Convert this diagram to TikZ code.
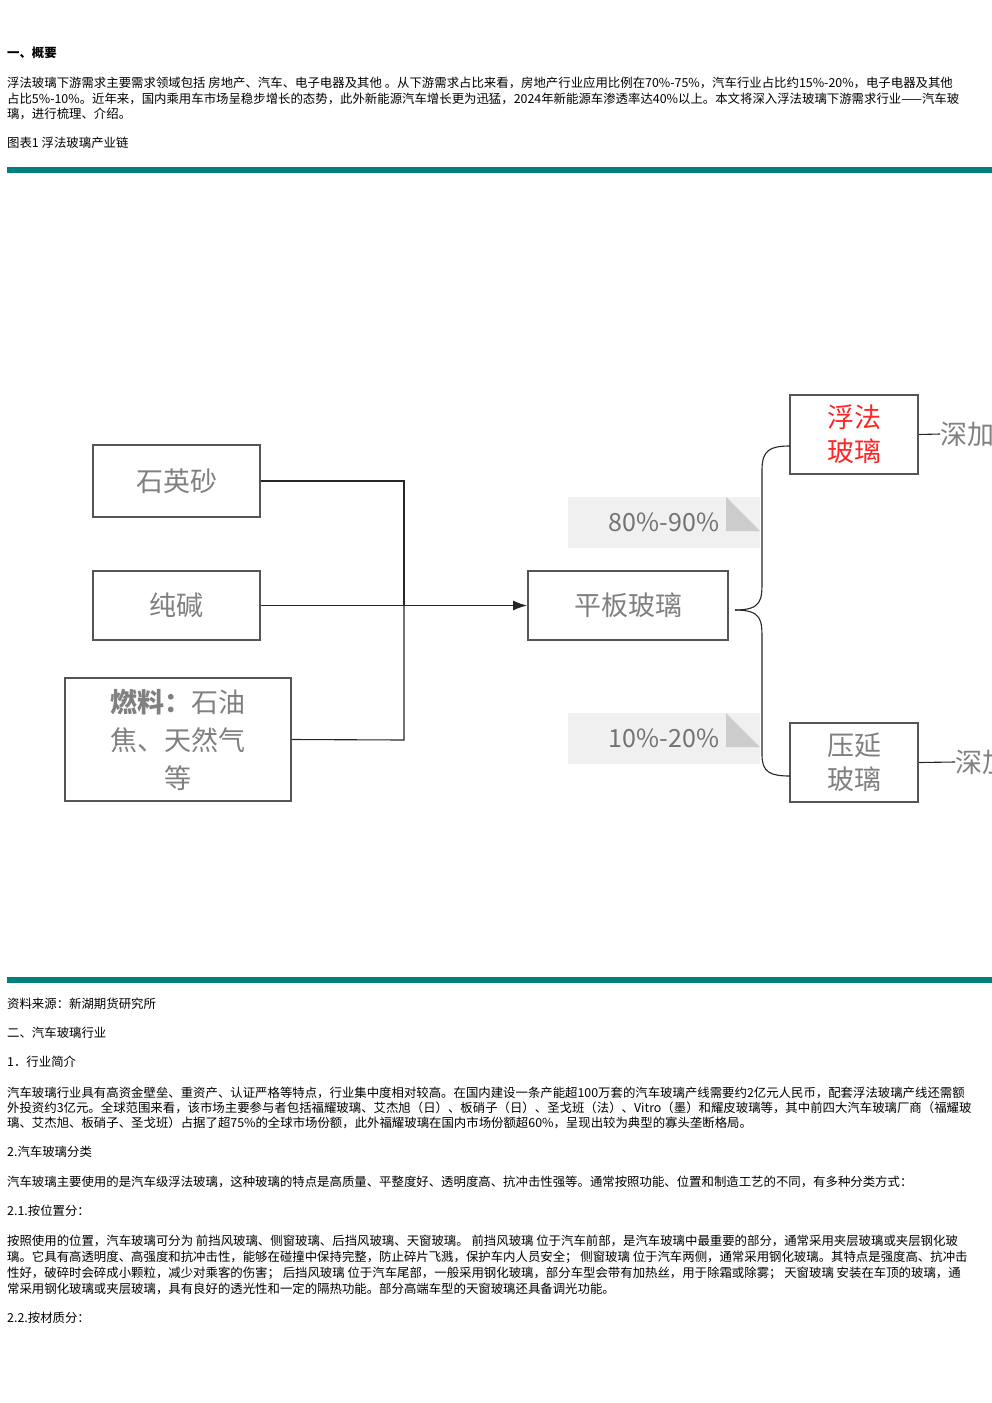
\documentclass[tikz,border=0pt]{standalone}
\usepackage{fontspec}
\setmainfont{Noto Sans CJK SC}
\usetikzlibrary{arrows.meta,decorations.pathreplacing}
\definecolor{teal1}{HTML}{00807A}
\definecolor{boxgray}{HTML}{555555}
\tikzset{
 txt/.style={anchor=west,inner sep=0pt,font=\fontsize{12.4}{14}\selectfont},
 bx/.style={draw=boxgray,line width=2pt,fill=white,align=center,text=gray,font=\fontsize{27}{36}\selectfont},
 conn/.style={draw=black!85,line width=1.1pt},
 pct/.style={fill=black!6,text=gray!90!black,font=\fontsize{25}{30}\selectfont,minimum width=192pt,minimum height=51pt,inner sep=0pt},
}
\begin{document}
\begin{tikzpicture}[x=1pt,y=-1pt]
\useasboundingbox (0,0) rectangle (992,1403);
\node[txt,font=\fontsize{12.4}{14}\selectfont\bfseries] (h1) at (7,53) {一、概要};
\node[txt] (p1a) at (7,83) {浮法玻璃下游需求主要需求领域包括 房地产、汽车、电子电器及其他 。从下游需求占比来看，房地产行业应用比例在70\%-75\%，汽车行业占比约15\%-20\%，电子电器及其他};
\node[txt] (p1b) at (7,99) {占比5\%-10\%。近年来，国内乘用车市场呈稳步增长的态势，此外新能源汽车增长更为迅猛，2024年新能源车渗透率达40\%以上。本文将深入浮法玻璃下游需求行业——汽车玻};
\node[txt] (p1c) at (7,114) {璃，进行梳理、介绍。};
\node[txt] (cap) at (7,143) {图表1 浮法玻璃产业链};
\fill[teal1] (7,167) rectangle (992,173);
\fill[teal1] (7,977) rectangle (992,983);
% diagram
\node[bx,minimum width=167pt,minimum height=72pt] (q) at (176.5,481) {石英砂};
\node[bx,minimum width=167pt,minimum height=69pt] (c) at (176.5,605.5) {纯碱};
\node[bx,minimum width=226pt,minimum height=123pt,font=\fontsize{27}{38}\selectfont] (f) at (178,739.5) {\textbf{燃料：}石油\\焦、天然气\\等};
\node[bx,minimum width=200pt,minimum height=69pt] (pb) at (628,605.5) {平板玻璃};
\node[bx,minimum width=128pt,minimum height=79pt,text=red!85,font=\fontsize{27}{34}\selectfont] (ff) at (854,434.5) {浮法\\玻璃};
\node[bx,minimum width=128pt,minimum height=79pt,font=\fontsize{27}{34}\selectfont] (yy) at (854,762.5) {压延\\玻璃};
\coordinate (j) at (404,606);
\draw[conn] (q.east) -- (404,481) -- (j);
\draw[conn] (f.east) -- (404,740) -- (j);
\draw[conn,-{Latex[length=14pt,width=10pt]}] (c.east) -- (pb.west);
\draw[conn] (735,610) .. controls (762,610) and (762,600) .. (762,580) -- (762,470) .. controls (762,450) and (770,446) .. (790,446);
\draw[conn] (735,610) .. controls (762,610) and (762,620) .. (762,640) -- (762,755) .. controls (762,772) and (770,776) .. (790,776);
\node[pct] (p80) at (664,522.5) {80\%-90\%};
\node[pct] (p10) at (664,738.5) {10\%-20\%};
\fill[black!20] (726,497) -- (760,531) -- (726,531) -- cycle;
\fill[black!20] (726,713) -- (760,747) -- (726,747) -- cycle;
\coordinate (e1) at (940,434);
\coordinate (e2) at (955,762);
\draw[conn] (ff.east) -- (e1);
\draw[conn] (yy.east) -- (e2);
\begin{scope}
\clip (0,0) rectangle (992,1403);
\node[anchor=west,inner sep=0pt,text=gray,font=\fontsize{27}{30}\selectfont] (d1) at (e1) {深加工};
\node[anchor=west,inner sep=0pt,text=gray,font=\fontsize{27}{30}\selectfont] (d2) at (e2) {深加工};
\end{scope}
% lower text
\node[txt] (s1) at (7,1004) {资料来源：新湖期货研究所};
\node[txt] (s2) at (7,1033) {二、汽车玻璃行业};
\node[txt] (s3) at (7,1062) {1．行业简介};
\node[txt] (a1) at (7,1093) {汽车玻璃行业具有高资金壁垒、重资产、认证严格等特点，行业集中度相对较高。在国内建设一条产能超100万套的汽车玻璃产线需要约2亿元人民币，配套浮法玻璃产线还需额};
\node[txt] (a2) at (7,1108) {外投资约3亿元。全球范围来看，该市场主要参与者包括福耀玻璃、艾杰旭（日）、板硝子（日）、圣戈班（法）、Vitro（墨）和耀皮玻璃等，其中前四大汽车玻璃厂商（福耀玻};
\node[txt] (a3) at (7,1123) {璃、艾杰旭、板硝子、圣戈班）占据了超75\%的全球市场份额，此外福耀玻璃在国内市场份额超60\%，呈现出较为典型的寡头垄断格局。};
\node[txt] (s4) at (7,1152) {2.汽车玻璃分类};
\node[txt] (b1) at (7,1182) {汽车玻璃主要使用的是汽车级浮法玻璃，这种玻璃的特点是高质量、平整度好、透明度高、抗冲击性强等。通常按照功能、位置和制造工艺的不同，有多种分类方式：};
\node[txt] (s5) at (7,1211) {2.1.按位置分：};
\node[txt] (c1) at (7,1241) {按照使用的位置，汽车玻璃可分为 前挡风玻璃、侧窗玻璃、后挡风玻璃、天窗玻璃。 前挡风玻璃 位于汽车前部，是汽车玻璃中最重要的部分，通常采用夹层玻璃或夹层钢化玻};
\node[txt] (c2) at (7,1257) {璃。它具有高透明度、高强度和抗冲击性，能够在碰撞中保持完整，防止碎片飞溅，保护车内人员安全； 侧窗玻璃 位于汽车两侧，通常采用钢化玻璃。其特点是强度高、抗冲击};
\node[txt] (c3) at (7,1273) {性好，破碎时会碎成小颗粒，减少对乘客的伤害； 后挡风玻璃 位于汽车尾部，一般采用钢化玻璃，部分车型会带有加热丝，用于除霜或除雾； 天窗玻璃 安装在车顶的玻璃，通};
\node[txt] (c4) at (7,1289) {常采用钢化玻璃或夹层玻璃，具有良好的透光性和一定的隔热功能。部分高端车型的天窗玻璃还具备调光功能。};
\node[txt] (s6) at (7,1318) {2.2.按材质分：};
\end{tikzpicture}
\end{document}
